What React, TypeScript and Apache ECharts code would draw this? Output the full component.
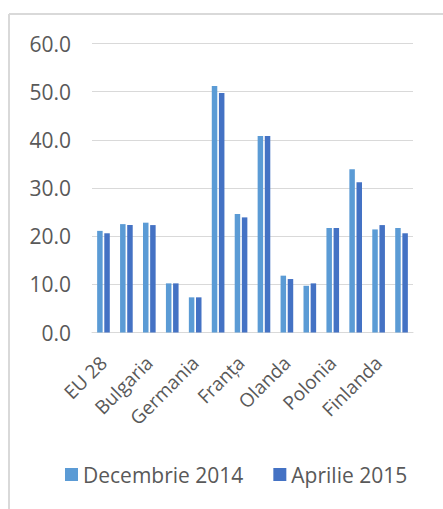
import React, { useEffect, useRef } from "react";
import * as echarts from "echarts";

const categories = [
  "EU 28", "Belgia", "Bulgaria", "Danemarca", "Germania", "Grecia", "Franța",
  "Italia", "Olanda", "Austria", "Polonia", "Portugalia", "Finlanda", "Suedia",
];
const seriesNames = ["Decembrie 2014", "Aprilie 2015"];
const dec2014 = [21.1, 22.5, 22.8, 10.2, 7.3, 51.2, 24.6, 40.8, 11.8, 9.7, 21.7, 33.9, 21.4, 21.7];
const apr2015 = [20.6, 22.3, 22.3, 10.2, 7.3, 49.7, 23.9, 40.8, 11.1, 10.2, 21.7, 31.2, 22.3, 20.6];
const colors = ["#5B9BD5", "#4472C4"];

const FONT = "'Open Sans', 'Noto Sans', sans-serif";

export default function App() {
  const ref = useRef<HTMLDivElement>(null);
  useEffect(() => {
    if (!ref.current) return;
    const chart = echarts.init(ref.current, null, { renderer: "svg" });
    chart.setOption({
      animation: false,
      backgroundColor: "#ffffff",
      textStyle: { fontFamily: FONT },
      grid: { left: 92, right: 30, top: 43.5, bottom: 176.5, containLabel: false },
      legend: {
        data: seriesNames,
        bottom: 19,
        left: 60,
        itemWidth: 13,
        itemHeight: 13,
        itemGap: 30,
        icon: "rect",
        textStyle: { color: "#595959", fontSize: 21, fontFamily: FONT },
      },
      xAxis: {
        type: "category",
        data: categories,
        axisTick: { show: false },
        axisLine: { show: true, lineStyle: { color: "#d9d9d9", width: 1 } },
        axisLabel: {
          interval: 1,
          rotate: 45,
          color: "#595959",
          fontSize: 19,
          fontFamily: FONT,
          margin: 27,
        },
      },
      yAxis: {
        type: "value",
        min: 0,
        max: 60,
        interval: 10,
        axisLine: { show: false },
        axisTick: { show: false },
        splitLine: { lineStyle: { color: "#d9d9d9", width: 1 } },
        axisLabel: {
          color: "#595959",
          fontSize: 21,
          fontFamily: FONT,
          margin: 21,
          formatter: (v: number) => v.toFixed(1),
        },
      },
      series: [
        {
          name: seriesNames[0],
          type: "bar",
          data: dec2014,
          barWidth: 5.5,
          barGap: "30%",
          itemStyle: { color: colors[0] },
        },
        {
          name: seriesNames[1],
          type: "bar",
          data: apr2015,
          barWidth: 5.5,
          itemStyle: { color: colors[1] },
        },
      ],
      graphic: [
        {
          type: "line",
          shape: { x1: 9, y1: 14, x2: 9, y2: 509 },
          style: { stroke: "#d9d9d9", lineWidth: 2 },
        },
        {
          type: "line",
          shape: { x1: 9, y1: 14, x2: 443, y2: 14 },
          style: { stroke: "#d9d9d9", lineWidth: 2 },
        },
      ],
    });
    return () => chart.dispose();
  }, []);
  return (
    <div
      ref={ref}
      style={{ position: "absolute", left: 0, top: 0, width: 443, height: 509 }}
    />
  );
}
